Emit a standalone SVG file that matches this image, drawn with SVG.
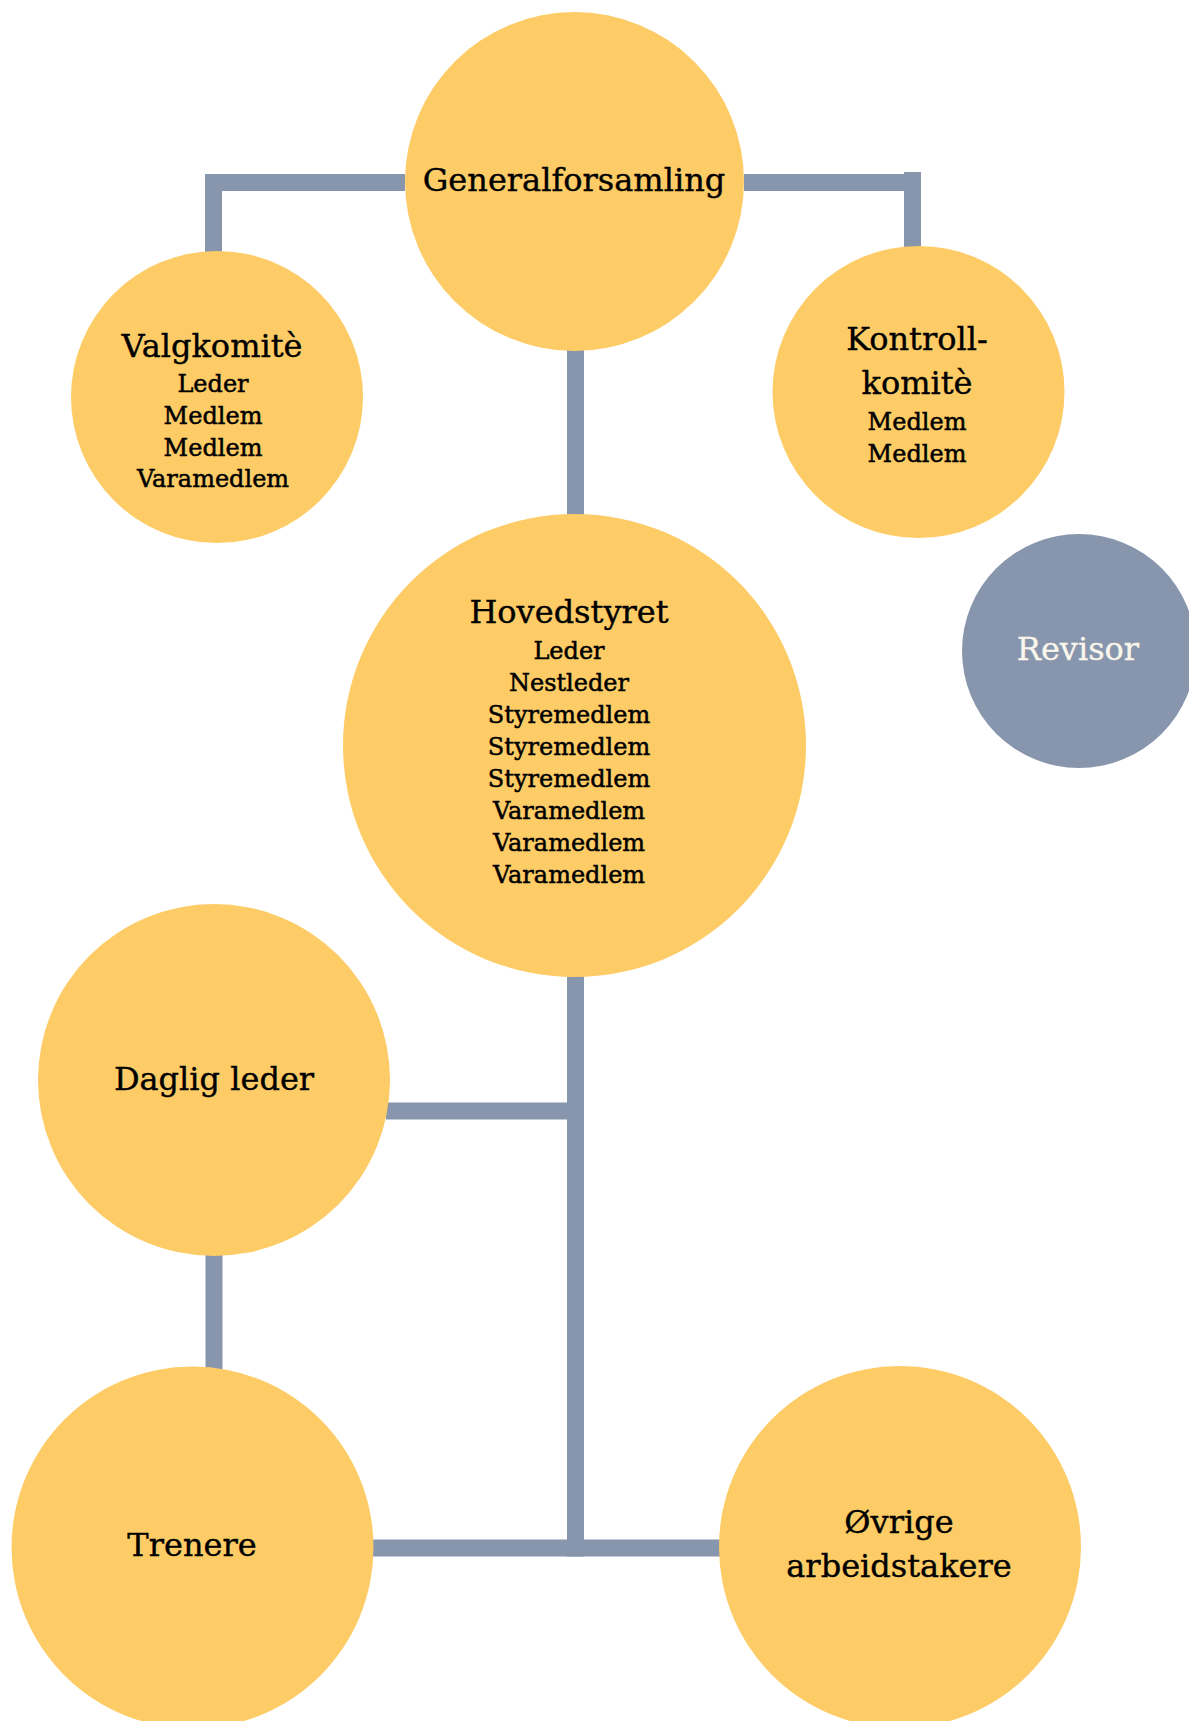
<svg xmlns="http://www.w3.org/2000/svg" width="1189" height="1721" viewBox="0 0 1189 1721">
<style>
.node{fill:#FDCC66}
.gray{fill:#8896AD}
.conn{fill:none;stroke:#8896AD;stroke-width:17;stroke-linecap:butt;stroke-linejoin:miter}
text{font-family:"DejaVu Serif","Liberation Serif",serif;text-anchor:middle;fill:#000;stroke:#000;stroke-width:0.4}
.t{font-size:32px}
.s{font-size:24px;stroke-width:0.5}
.w{fill:#FAF6EC;stroke:#FAF6EC;stroke-width:0.3}
</style>
<rect width="1189" height="1721" fill="#ffffff"/>
<g id="connectors">
<path class="conn" d="M405 182.5 H213.5 V253"/>
<path class="conn" d="M744 182.5 H912.5 V172 M912.5 178 V249"/>
<path class="conn" d="M575.5 350 V515"/>
<path class="conn" d="M575.5 976 V1556.5"/>
<path class="conn" d="M386 1111 H575"/>
<path class="conn" d="M214 1254 V1369"/>
<path class="conn" d="M371 1548 H721"/>
</g>
<g id="generalforsamling">
<circle class="node" cx="574.5" cy="181.5" r="169.5"/>
<text class="t" x="574" y="191">Generalforsamling</text>
</g>
<g id="valgkomite">
<circle class="node" cx="217" cy="397" r="146"/>
<text class="t" x="212" y="357">Valgkomitè</text>
<text class="s" x="213" y="392">Leder</text>
<text class="s" x="213" y="424">Medlem</text>
<text class="s" x="213" y="456">Medlem</text>
<text class="s" x="213" y="487">Varamedlem</text>
</g>
<g id="kontrollkomite">
<circle class="node" cx="918.5" cy="392" r="146"/>
<text class="t" x="917" y="350">Kontroll-</text>
<text class="t" x="917" y="394">komitè</text>
<text class="s" x="917" y="430">Medlem</text>
<text class="s" x="917" y="462">Medlem</text>
</g>
<g id="revisor">
<circle class="gray" cx="1079" cy="651" r="117"/>
<text class="t w" x="1078" y="660">Revisor</text>
</g>
<g id="hovedstyret">
<circle class="node" cx="574.5" cy="745.5" r="231.5"/>
<text class="t" x="569" y="623">Hovedstyret</text>
<text class="s" x="569" y="659">Leder</text>
<text class="s" x="569" y="691">Nestleder</text>
<text class="s" x="569" y="723">Styremedlem</text>
<text class="s" x="569" y="755">Styremedlem</text>
<text class="s" x="569" y="787">Styremedlem</text>
<text class="s" x="569" y="819">Varamedlem</text>
<text class="s" x="569" y="851">Varamedlem</text>
<text class="s" x="569" y="883">Varamedlem</text>
</g>
<g id="daglig-leder">
<circle class="node" cx="214" cy="1080" r="176"/>
<text class="t" x="214" y="1090">Daglig leder</text>
</g>
<g id="trenere">
<circle class="node" cx="192.5" cy="1547.5" r="181"/>
<text class="t" x="192" y="1556">Trenere</text>
</g>
<g id="ovrige">
<circle class="node" cx="900" cy="1547" r="181"/>
<text class="t" x="899" y="1533">Øvrige</text>
<text class="t" x="899" y="1577">arbeidstakere</text>
</g>
</svg>
